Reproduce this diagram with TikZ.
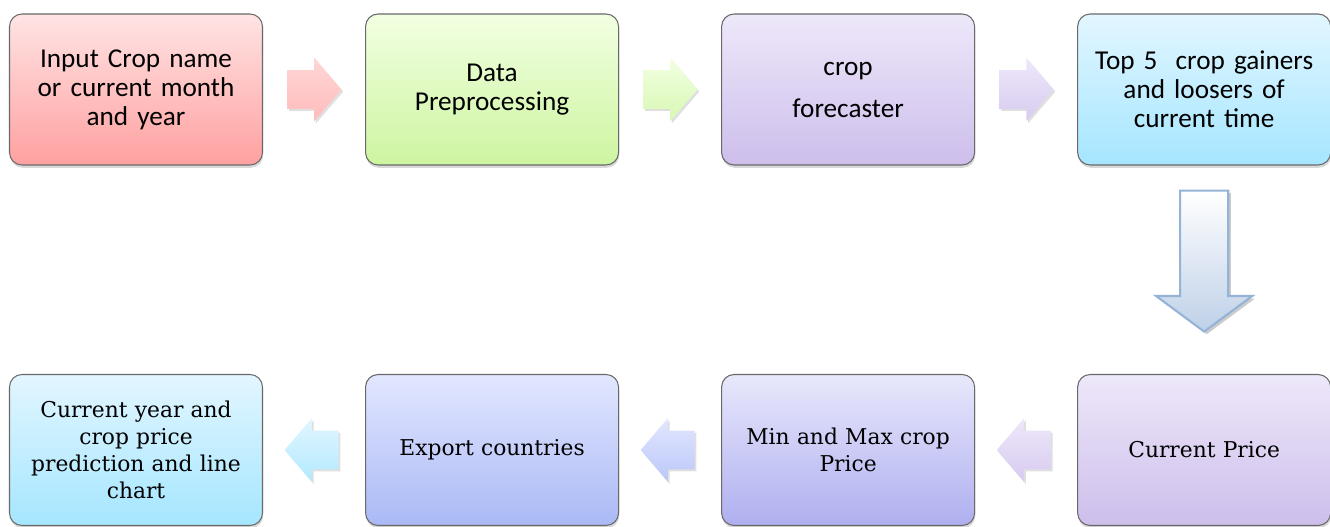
\documentclass[tikz,border=0pt]{standalone}
\usepackage{fontspec}
\setmainfont{DejaVu Serif}
\newfontfamily\calibrifont{Carlito}
\usetikzlibrary{positioning,shapes.arrows,shadows,calc}

\definecolor{boxline}{RGB}{105,105,105}
\definecolor{pinkhi}{RGB}{255,228,228}
\definecolor{pinklo}{RGB}{255,160,160}
\definecolor{greenhi}{RGB}{242,255,226}
\definecolor{greenlo}{RGB}{205,245,160}
\definecolor{lilachi}{RGB}{238,232,250}
\definecolor{lilaclo}{RGB}{205,190,235}
\definecolor{cyanhi}{RGB}{226,246,255}
\definecolor{cyanlo}{RGB}{165,230,255}
\definecolor{perihi}{RGB}{226,231,255}
\definecolor{perilo}{RGB}{170,185,245}
\definecolor{violethi}{RGB}{232,232,252}
\definecolor{violetlo}{RGB}{175,175,240}
\definecolor{downline}{RGB}{149,179,215}
\definecolor{downlo}{RGB}{190,208,232}

\tikzset{
	stepbox/.style={draw=boxline, line width=0.6pt, rounded corners=0.25cm,
		minimum width=5.06cm, minimum height=3.02cm, text width=4.8cm, align=center,
		drop shadow={opacity=0.3, shadow xshift=0.4pt, shadow yshift=-1.6pt}},
	topbox/.style={stepbox, font=\calibrifont\fontsize{15.5}{16.5}\selectfont},
	lowbox/.style={stepbox, font=\fontsize{12.4}{15.4}\selectfont},
	flow/.style={single arrow, draw=none, inner xsep=0pt, inner ysep=0.38cm,
		minimum height=1.08cm, minimum width=1.26cm, anchor=tail,
		single arrow head extend=0.25cm, single arrow tip angle=99,
		drop shadow={opacity=0.25, shadow xshift=1pt, shadow yshift=-1.2pt}},
	back/.style={flow, shape border rotate=180},
	down/.style={single arrow, shape border rotate=270, inner sep=0.46cm, anchor=tail,
		draw=downline, line width=1.2pt, top color=white, bottom color=downlo,
		minimum height=2.82cm, minimum width=1.88cm,
		single arrow head extend=0.48cm, single arrow tip angle=107,
		drop shadow={opacity=0.4, shadow xshift=1.5pt, shadow yshift=-1.5pt}}
}

\begin{document}
\begin{tikzpicture}[node distance=2.04cm]
	\useasboundingbox (0,0) rectangle (26.6,-10.54);

	\node[topbox, top color=pinkhi, bottom color=pinklo] (input) at (2.72,-1.79)
		{Input Crop name\\or current month\\and year};
	\node[topbox, top color=greenhi, bottom color=greenlo, right=of input] (prep)
		{Data\\Preprocessing};
	\node[topbox, top color=lilachi, bottom color=lilaclo, right=of prep] (forecast)
		{crop\\[0.26cm]forecaster};
	\node[topbox, top color=cyanhi, bottom color=cyanlo, right=of forecast] (top5)
		{Top 5\ \ crop gainers\\and loosers of\\current time};

	\node[lowbox, top color=cyanhi, bottom color=cyanlo] (chart) at (2.72,-9.0)
		{Current year and\\crop price\\prediction and line\\chart};
	\node[lowbox, top color=perihi, bottom color=perilo, right=of chart] (export)
		{Export countries};
	\node[lowbox, top color=violethi, bottom color=violetlo, right=of export] (minmax)
		{Min and Max crop\\Price};
	\node[lowbox, top color=lilachi, bottom color=lilaclo, right=of minmax] (price)
		{Current Price};

	\node[flow, top color=pinkhi!80!pinklo, bottom color=pinklo!60!pinkhi] (a1) at ($(input.east)!0.5!(prep.west)+(-0.54,0)$) {};
	\node[flow, top color=greenhi, bottom color=greenlo!70!greenhi] (a2) at ($(prep.east)!0.5!(forecast.west)+(-0.54,0)$) {};
	\node[flow, top color=lilachi, bottom color=lilaclo!70!lilachi] (a3) at ($(forecast.east)!0.5!(top5.west)+(-0.54,0)$) {};

	\node[down] (a4) at ($(top5.south)+(0,-0.48)$) {};

	\node[back, top color=lilachi, bottom color=lilaclo!70!lilachi] (a5) at ($(minmax.east)!0.5!(price.west)+(0.5,0)$) {};
	\node[back, top color=perihi, bottom color=perilo!70!perihi] (a6) at ($(export.east)!0.5!(minmax.west)+(0.5,0)$) {};
	\node[back, top color=cyanhi, bottom color=cyanlo!80!cyanhi] (a7) at ($(chart.east)!0.5!(export.west)+(0.5,0)$) {};
\end{tikzpicture}
\end{document}
